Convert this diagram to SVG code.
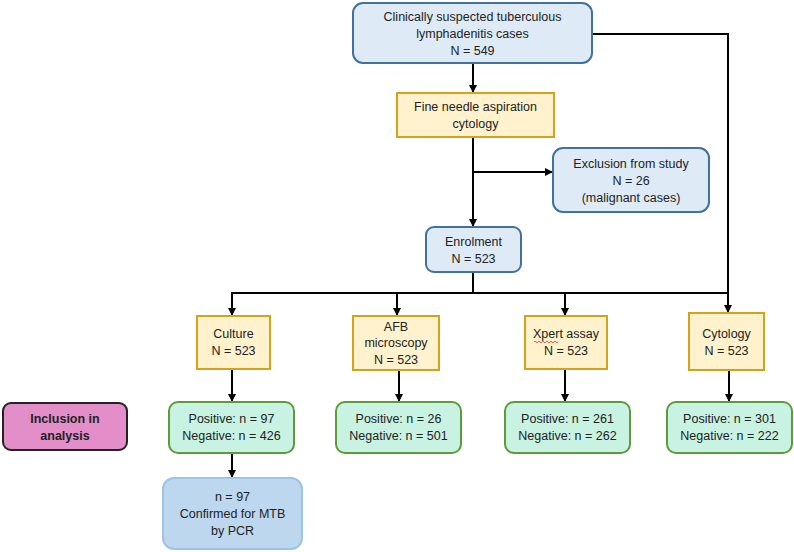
<svg xmlns="http://www.w3.org/2000/svg" width="794" height="552" viewBox="0 0 794 552">
<style>
text{font-family:"Liberation Sans",Arial,sans-serif;font-size:12.5px;fill:#222;text-anchor:middle}
.blue{fill:#DEEBF7;stroke:#41719C;stroke-width:2}
.yel{fill:#FFF2CC;stroke:#D6A21E;stroke-width:2}
.grn{fill:#C8F2E2;stroke:#5E9A3A;stroke-width:2}
.pcr{fill:#BDD7EE;stroke:#9DC3E6;stroke-width:2}
.pink{fill:#E38EC8;stroke:#222;stroke-width:2}
.ln{fill:none;stroke:#000;stroke-width:2}
.b{font-weight:bold}
</style>
<defs>
<marker id="ah" markerWidth="8" markerHeight="8" refX="7" refY="4" orient="auto" markerUnits="userSpaceOnUse">
<path d="M0,0 L8,4 L0,8 Z" fill="#000"/>
</marker>
</defs>
<g id="connectors">
<path class="ln" d="M473,63 V92" marker-end="url(#ah)"/>
<path class="ln" d="M592,34 H728 V312" marker-end="url(#ah)"/>
<path class="ln" d="M473,137 V226" marker-end="url(#ah)"/>
<path class="ln" d="M473,172 H552" marker-end="url(#ah)"/>
<path class="ln" d="M473,272 V293"/>
<path class="ln" d="M232,315 V293 H728"/>
<path class="ln" d="M397,293 V315" marker-end="url(#ah)"/>
<path class="ln" d="M565,293 V315" marker-end="url(#ah)"/>
<path class="ln" d="M232,294 V315" marker-end="url(#ah)"/>
<path class="ln" d="M232,369 V401" marker-end="url(#ah)"/>
<path class="ln" d="M399,370 V401" marker-end="url(#ah)"/>
<path class="ln" d="M565,370 V401" marker-end="url(#ah)"/>
<path class="ln" d="M729,370 V401" marker-end="url(#ah)"/>
<path class="ln" d="M232,453 V477" marker-end="url(#ah)"/>
</g>
<g id="n-suspected">
<rect class="blue" x="353" y="3" width="239" height="60" rx="10"/>
<text x="472.5" y="21">Clinically suspected tuberculous</text>
<text x="472.5" y="38">lymphadenitis cases</text>
<text x="472.5" y="55">N = 549</text>
</g>
<g id="n-fna">
<rect class="yel" x="397" y="93" width="157" height="44"/>
<text x="475.5" y="111">Fine needle aspiration</text>
<text x="475.5" y="128">cytology</text>
</g>
<g id="n-exclusion">
<rect class="blue" x="553" y="148" width="156" height="64" rx="10"/>
<text x="631" y="168">Exclusion from study</text>
<text x="631" y="185">N = 26</text>
<text x="631" y="202">(malignant cases)</text>
</g>
<g id="n-enrolment">
<rect class="blue" x="426" y="227" width="95" height="45" rx="8"/>
<text x="473.5" y="246">Enrolment</text>
<text x="473.5" y="263">N = 523</text>
</g>
<g id="n-culture">
<rect class="yel" x="197" y="316" width="73" height="53"/>
<text x="233.5" y="338">Culture</text>
<text x="233.5" y="355">N = 523</text>
</g>
<g id="n-afb">
<rect class="yel" x="353" y="316" width="86" height="54"/>
<text x="396" y="331">AFB</text>
<text x="396" y="347">microscopy</text>
<text x="396" y="364">N = 523</text>
</g>
<g id="n-xpert">
<rect class="yel" x="525" y="316" width="82" height="53"/>
<text x="566" y="338">Xpert assay</text>
<text x="566" y="355">N = 523</text>
<path d="M534,342 q1,-1.5 2,0 t2,0 t2,0 t2,0 t2,0 t2,0 t2,0 t2,0 t2,0 t2,0 t2,0 t2,0" fill="none" stroke="#E03030" stroke-width="0.8"/>
</g>
<g id="n-cytology">
<rect class="yel" x="689" y="313" width="75" height="57"/>
<text x="726.5" y="338">Cytology</text>
<text x="726.5" y="355">N = 523</text>
</g>
<g id="n-inclusion">
<rect class="pink" x="3" y="403" width="124" height="47" rx="8"/>
<text class="b" x="65" y="423">Inclusion in</text>
<text class="b" x="65" y="440">analysis</text>
</g>
<g id="n-culture-res">
<rect class="grn" x="169" y="402" width="125" height="51" rx="9"/>
<text x="231.5" y="423">Positive: n = 97</text>
<text x="231.5" y="440">Negative: n = 426</text>
</g>
<g id="n-afb-res">
<rect class="grn" x="336" y="402" width="125" height="51" rx="9"/>
<text x="398.5" y="423">Positive: n = 26</text>
<text x="398.5" y="440">Negative: n = 501</text>
</g>
<g id="n-xpert-res">
<rect class="grn" x="505" y="402" width="125" height="51" rx="9"/>
<text x="567.5" y="423">Positive: n = 261</text>
<text x="567.5" y="440">Negative: n = 262</text>
</g>
<g id="n-cytology-res">
<rect class="grn" x="667" y="402" width="125" height="51" rx="9"/>
<text x="729.5" y="423">Positive: n = 301</text>
<text x="729.5" y="440">Negative: n = 222</text>
</g>
<g id="n-pcr">
<rect class="pcr" x="163" y="478" width="139" height="71" rx="11"/>
<text x="232.5" y="501">n = 97</text>
<text x="232.5" y="518">Confirmed for MTB</text>
<text x="232.5" y="535">by PCR</text>
</g>
</svg>
